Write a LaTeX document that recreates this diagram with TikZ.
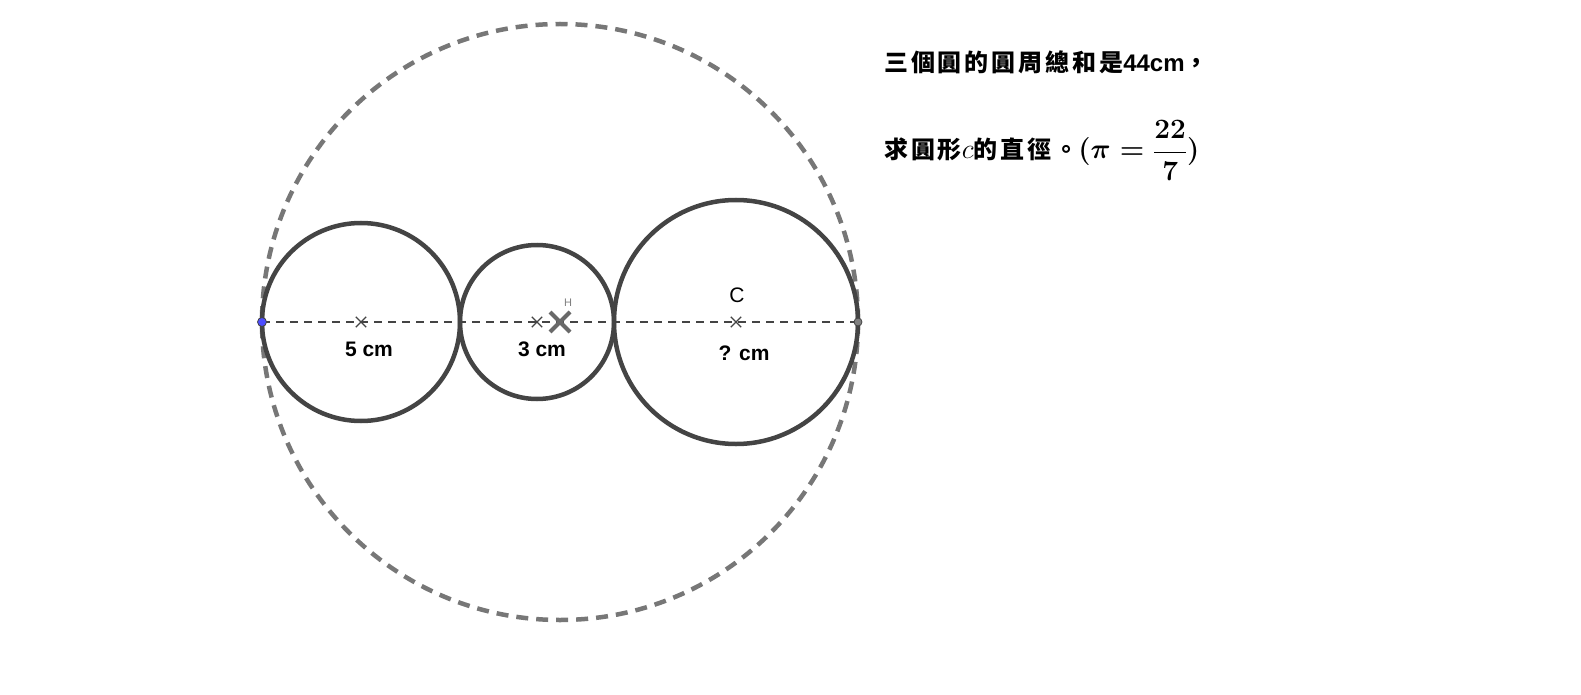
\documentclass[tikz,border=0pt]{standalone}
\usepackage{fix-cm}
\usepackage{amsmath}
\usepackage{fontspec}
\setmainfont{Liberation Sans}
\newfontfamily\cjk[LetterSpace=12]{Noto Sans CJK TC}
\usetikzlibrary{shapes.misc}
\definecolor{ringgray}{HTML}{444444}
\definecolor{outergray}{HTML}{777777}
\definecolor{ptblue}{HTML}{4D4DFF}
\tikzset{
    ring/.style = {draw=ringgray, line width=4.5pt},
    outer/.style = {draw=outergray, line width=4.5pt, dash pattern=on 12pt off 8pt},
    axis/.style = {draw=ringgray, line width=2pt, dash pattern=on 8pt off 6pt},
    ctr/.style = {cross out, draw=ringgray, line width=1.3pt, minimum size=9pt, inner sep=0pt},
    bigx/.style = {cross out, draw=ringgray!80, line width=4pt, minimum size=16pt, inner sep=0pt},
    lbl/.style = {font=\fontsize{21}{25}\selectfont\bfseries, inner sep=0pt},
    txt/.style = {font=\fontsize{24}{28}\selectfont, anchor=base west, inner sep=0pt}
}
\begin{document}
\begin{tikzpicture}[x=1pt, y=-1pt]
    \useasboundingbox (0,0) rectangle (1581,695);

    \coordinate (O) at (560,322);
    \coordinate (c1) at (361,322);
    \coordinate (c2) at (537,322);
    \coordinate (c3) at (736,322);

    \draw[outer] (O) circle (298);
    \draw[ring] (c1) circle (99);
    \draw[ring] (c2) circle (77);
    \draw[ring] (c3) circle (122);

    \coordinate (A) at (262,322);
    \coordinate (B) at (858,322);
    \draw[axis] (A) -- (B);

    \node[ctr] (m1) at (c1) {};
    \node[ctr] (m2) at (c2) {};
    \node[ctr] (m3) at (c3) {};
    \node[bigx] (H) at (560,322) {};
    \node[font=\fontsize{11}{13}\selectfont, text=gray, inner sep=0pt] (Hl) at (568,303) {H};
    \node[font=\fontsize{21}{25}\selectfont, inner sep=0pt] (Cl) at (737,295) {C};

    \fill[ptblue, draw=ringgray, line width=0.8pt] (A) circle (4.5);
    \fill[gray, draw=ringgray, line width=0.8pt] (B) circle (4);

    \node[lbl] (l1) at (369,349) {5 cm};
    \node[lbl] (l2) at (542,349) {3 cm};
    \node[lbl] (l3) at (744,353) {? cm};

    \node[txt] (t1) at (884,72) {{\cjk\bfseries 三個圓的圓周總和是}{\bfseries 44cm}{\cjk\bfseries ，}};
    \node[txt, font=\fontsize{24}{28}\selectfont\boldmath] (t2) at (884,159) {{\cjk\bfseries 求圓形}{\unboldmath\fontsize{28}{32}\selectfont$c$}{\cjk\bfseries 的直徑。}{\fontsize{28}{32}\selectfont$(\pi=\dfrac{22}{7})$}};
\end{tikzpicture}
\end{document}
